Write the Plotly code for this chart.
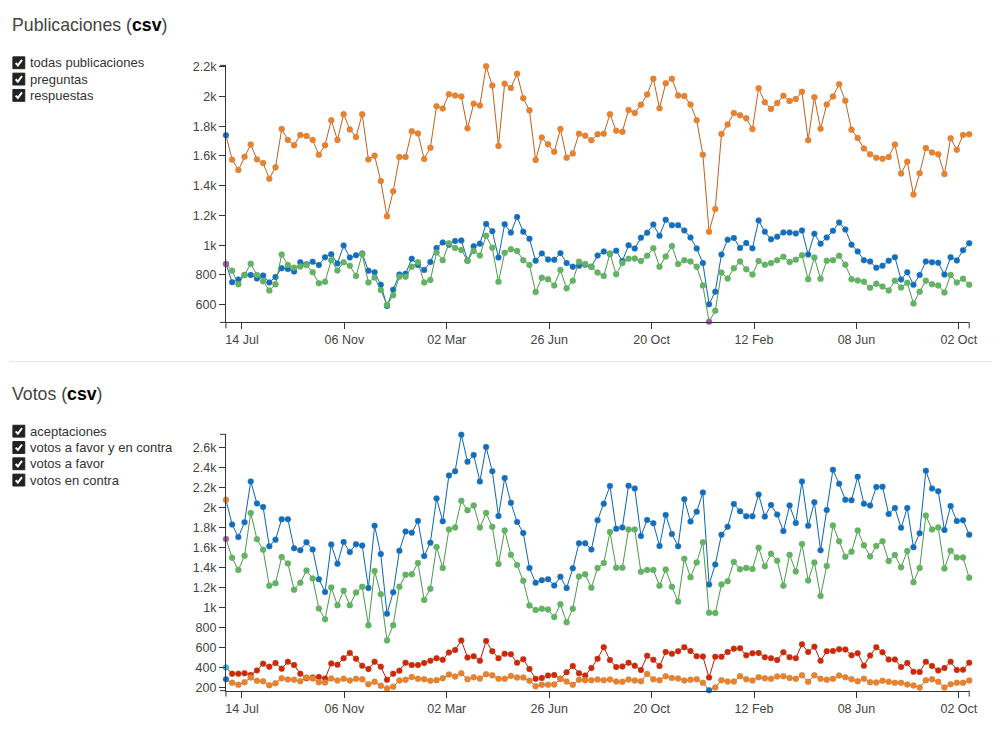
import pandas as pd
import plotly.graph_objects as go

# ---------------- data ----------------
week_start = "2017-06-26"
n_weeks = 121
weeks = pd.date_range(week_start, periods=n_weeks, freq="7D")

todas_publicaciones = [
    1739, 1575, 1506, 1595, 1677, 1577, 1553, 1447, 1524, 1781,
    1708, 1673, 1741, 1735, 1708, 1608, 1673, 1841, 1708, 1881,
    1779, 1728, 1881, 1577, 1602, 1431, 1194, 1362, 1593, 1593,
    1766, 1752, 1580, 1655, 1934, 1919, 2016, 2007, 2001, 1786,
    1952, 1939, 2204, 2074, 1668, 2087, 2058, 2153, 1989, 1907,
    1573, 1724, 1679, 1628, 1781, 1588, 1617, 1750, 1737, 1706,
    1746, 1750, 1881, 1770, 1763, 1910, 1890, 1945, 2014, 2120,
    1921, 2089, 2120, 2007, 2003, 1947, 1841, 1608, 1090, 1243,
    1748, 1812, 1890, 1874, 1854, 1781, 2056, 1961, 1916, 1956,
    2005, 1970, 1983, 2032, 1706, 1996, 1783, 1947, 2001, 2083,
    1972, 1777, 1721, 1650, 1611, 1588, 1582, 1593, 1677, 1482,
    1562, 1340, 1484, 1653, 1624, 1611, 1478, 1719, 1642, 1741,
    1746,
]
preguntas = [
    873, 751, 768, 799, 799, 775, 795, 749, 786, 844,
    839, 822, 884, 871, 888, 866, 919, 939, 877, 997,
    917, 932, 944, 828, 817, 733, 591, 700, 802, 808,
    908, 866, 833, 886, 981, 1017, 1003, 1028, 1032, 895,
    992, 1010, 1143, 1094, 917, 1141, 1085, 1190, 1090, 1043,
    895, 944, 904, 901, 946, 879, 855, 862, 868, 855,
    930, 957, 941, 963, 893, 999, 977, 1050, 1083, 1139,
    1063, 1170, 1134, 1134, 1099, 1052, 977, 879, 602, 687,
    937, 1037, 1048, 981, 1014, 979, 1165, 1090, 1039, 1057,
    1085, 1085, 1079, 1099, 937, 1076, 1010, 1052, 1096, 1152,
    1105, 1003, 957, 899, 890, 848, 861, 895, 919, 768,
    817, 733, 799, 890, 884, 881, 802, 919, 897, 966,
    1012,
]
respuestas = [
    873, 828, 737, 799, 875, 799, 757, 695, 737, 937,
    866, 848, 857, 866, 817, 744, 753, 899, 830, 884,
    862, 793, 939, 749, 782, 698, 598, 662, 788, 788,
    855, 884, 749, 766, 950, 899, 1012, 981, 968, 895,
    961, 930, 1063, 983, 753, 948, 972, 961, 899, 866,
    684, 780, 771, 729, 833, 709, 760, 888, 873, 853,
    815, 793, 944, 804, 879, 908, 910, 893, 928, 979,
    855, 924, 994, 873, 899, 890, 855, 729, 485, 558,
    815, 775, 844, 890, 837, 802, 893, 868, 879, 899,
    921, 886, 901, 932, 771, 917, 773, 895, 899, 928,
    868, 771, 762, 753, 713, 740, 722, 695, 760, 715,
    746, 607, 687, 760, 737, 729, 682, 799, 749, 773,
    733,
]

aceptaciones = [
    279, 243, 223, 250, 296, 263, 260, 220, 240, 289,
    276, 273, 260, 296, 286, 250, 246, 286, 266, 283,
    266, 283, 279, 230, 253, 213, 187, 204, 266, 273,
    302, 283, 279, 263, 270, 289, 326, 306, 339, 279,
    299, 286, 329, 319, 283, 283, 312, 296, 296, 263,
    210, 223, 223, 227, 283, 256, 223, 273, 270, 270,
    276, 270, 276, 256, 253, 276, 266, 260, 332, 279,
    270, 309, 293, 286, 266, 273, 279, 243, 170, 197,
    270, 256, 256, 309, 279, 266, 299, 289, 283, 306,
    309, 293, 283, 319, 253, 319, 283, 273, 283, 316,
    299, 279, 260, 283, 250, 246, 263, 253, 243, 243,
    227, 217, 197, 270, 279, 253, 197, 230, 243, 243,
    266,
]
votos_favor_contra = [
    2078, 1831, 1705, 1854, 2263, 2042, 2006, 1613, 1679, 1884,
    1884, 1593, 1573, 1653, 1580, 1283, 1154, 1630, 1438, 1656,
    1554, 1633, 1620, 1194, 1818, 1534, 936, 1151, 1567, 1762,
    1748, 1867, 1514, 1649, 2092, 1864, 2323, 2366, 2732, 2461,
    2527, 2263, 2607, 2366, 1917, 2296, 2049, 1857, 1745, 1395,
    1247, 1273, 1283, 1220, 1306, 1194, 1392, 1643, 1643, 1580,
    1874, 2039, 2217, 1788, 1801, 2220, 2191, 1715, 1877, 1844,
    1616, 1927, 1735, 1613, 2085, 1861, 1960, 2151, 1230, 1431,
    1729, 1808, 2036, 1964, 1913, 1913, 2131, 1910, 2026, 1930,
    1765, 2022, 1847, 2263, 1818, 2055, 1573, 1976, 2379, 2240,
    2078, 2075, 2310, 2039, 2022, 2207, 2210, 1936, 1996, 1798,
    1996, 1603, 1742, 2369, 2191, 2164, 1775, 2016, 1867, 1874,
    1729,
]
votos_favor = [
    1686, 1497, 1375, 1517, 1946, 1683, 1577, 1217, 1243, 1504,
    1441, 1177, 1247, 1369, 1290, 989, 880, 1200, 1022, 1167,
    1022, 1148, 1207, 821, 1365, 1131, 669, 821, 1207, 1326,
    1332, 1445, 1075, 1187, 1606, 1395, 1781, 1801, 2068, 1973,
    2022, 1801, 1946, 1808, 1435, 1771, 1527, 1425, 1266, 1019,
    973, 986, 979, 903, 1032, 850, 986, 1309, 1332, 1197,
    1395, 1445, 1755, 1398, 1398, 1781, 1781, 1356, 1375, 1375,
    1217, 1379, 1207, 1058, 1488, 1303, 1451, 1653, 946, 943,
    1230, 1263, 1455, 1382, 1395, 1385, 1597, 1412, 1537, 1468,
    1217, 1527, 1359, 1636, 1270, 1451, 1115, 1415, 1821, 1662,
    1507, 1557, 1771, 1623, 1511, 1616, 1662, 1464, 1524, 1402,
    1564, 1253, 1395, 1920, 1781, 1801, 1389, 1567, 1501, 1501,
    1296,
]
votos_contra = [
    398, 335, 335, 339, 322, 368, 435, 405, 441, 385,
    454, 421, 335, 289, 296, 303, 286, 438, 425, 491,
    543, 484, 415, 382, 454, 405, 273, 335, 365, 444,
    421, 421, 441, 464, 491, 474, 547, 573, 669, 497,
    510, 464, 662, 560, 491, 534, 530, 444, 481, 382,
    283, 293, 316, 322, 283, 349, 411, 339, 316, 392,
    484, 600, 471, 402, 408, 444, 415, 372, 514, 474,
    411, 553, 534, 560, 600, 563, 510, 507, 296, 504,
    504, 553, 586, 590, 520, 540, 543, 501, 491, 471,
    550, 501, 491, 629, 553, 606, 464, 560, 563, 580,
    577, 520, 540, 415, 517, 600, 550, 477, 477, 402,
    441, 355, 352, 454, 411, 368, 392, 454, 372, 375,
    444,
]

tick_stamps_ms = [1.50e12, 1.51e12, 1.52e12, 1.53e12, 1.54e12, 1.55e12, 1.56e12, 1.57e12]
tick_labels = ["14 Jul", "06 Nov", "02 Mar", "26 Jun", "20 Oct", "12 Feb", "08 Jun", "02 Oct"]

# ---------------- styling ----------------
W, H = 1000, 730
ORANGE, ORANGE_L = "#f28021", "#c0601c"
BLUE, BLUE_L = "#0a70c6", "#0a66b4"
GREEN, GREEN_L = "#5cb85c", "#4b9a4b"
RED, RED_L = "#d42400", "#b41e00"
PURPLE, CYAN = "#a05aa8", "#22bfe0"
AXIS = "#333333"
TXT = "#444444"
FONT = "Liberation Sans, Arial, sans-serif"


def px(x):
    return x / W


def py(y):
    return 1 - y / H


tickvals = [pd.to_datetime(t, unit="ms").strftime("%Y-%m-%d %H:%M:%S") for t in tick_stamps_ms]
x_range = [weeks[0].strftime("%Y-%m-%d"), weeks[-1].strftime("%Y-%m-%d")]


def marker_colors(values, base, alt, special_min=False):
    cols = [base] * len(values)
    cols[0] = alt
    if special_min:
        cols[values.index(min(values))] = alt
    return cols


fig = go.Figure()


def add_series(values, base, line_col, alt, xa, ya, special_min=False):
    fig.add_trace(go.Scatter(
        x=weeks, y=values, mode="lines+markers", xaxis=xa, yaxis=ya,
        line=dict(color=line_col, width=1),
        marker=dict(size=6, color=marker_colors(values, base, alt, special_min),
                    line=dict(width=0.6, color="rgba(140,140,140,0.55)")),
        cliponaxis=False, showlegend=False, hoverinfo="x+y",
    ))


# top chart
add_series(todas_publicaciones, ORANGE, ORANGE_L, BLUE, "x", "y")
add_series(preguntas, BLUE, BLUE_L, ORANGE, "x", "y")
add_series(respuestas, GREEN, GREEN_L, PURPLE, "x", "y", special_min=True)
# bottom chart
add_series(votos_favor_contra, BLUE, BLUE_L, ORANGE, "x2", "y2")
add_series(votos_favor, GREEN, GREEN_L, PURPLE, "x2", "y2")
add_series(votos_contra, RED, RED_L, CYAN, "x2", "y2")
add_series(aceptaciones, ORANGE, ORANGE_L, BLUE, "x2", "y2", special_min=True)

# pixel geometry
X0, X1 = 227, 977
TOP_Y0, TOP_Y1 = 321.35, 61.1      # pixels for range ends
BOT_Y0, BOT_Y1 = 694.2, 434.7
top_range = [480, 2210]
bot_range = [165, 2735]

xaxis_common = dict(
    type="date", range=x_range, domain=[px(X0), px(X1)],
    showgrid=False, zeroline=False, showline=True, linecolor=AXIS, linewidth=1,
    ticks="outside", ticklen=6, tickcolor=AXIS, tickwidth=1,
    tickvals=tickvals, ticktext=tick_labels,
    tickfont=dict(family=FONT, size=12.5, color=TXT),
)
yaxis_common = dict(
    showgrid=False, zeroline=False, showline=True, linecolor=AXIS, linewidth=1,
    ticks="outside", ticklen=6, tickcolor=AXIS, tickwidth=1,
    tick0=0, dtick=200, tickformat="~s",
    tickfont=dict(family=FONT, size=12.5, color=TXT),
)

fig.update_layout(
    width=W, height=H, margin=dict(l=0, r=0, t=0, b=0),
    paper_bgcolor="white", plot_bgcolor="white",
    font=dict(family=FONT, color=TXT),
    xaxis=dict(**xaxis_common, anchor="y"),
    yaxis=dict(**yaxis_common, anchor="x", range=top_range,
               domain=[py(TOP_Y0), py(TOP_Y1)]),
    xaxis2=dict(**xaxis_common, anchor="y2"),
    yaxis2=dict(**yaxis_common, anchor="x2", range=bot_range,
                domain=[py(BOT_Y0), py(BOT_Y1)]),
)

shapes = []
# outer ticks of the d3-style axes
for yb, yt in [(TOP_Y0, TOP_Y1), (BOT_Y0, BOT_Y1)]:
    for seg in [((X0 - 6, yb), (X0, yb)), ((X0 - 6, yt), (X0, yt)),
                ((X0, yb), (X0, yb + 6)), ((X1, yb), (X1, yb + 6))]:
        (ax, ay), (bx, by) = seg
        shapes.append(dict(type="line", xref="paper", yref="paper",
                           x0=px(ax), y0=py(ay), x1=px(bx), y1=py(by),
                           line=dict(color=AXIS, width=1)))

# separator
shapes.append(dict(type="line", xref="paper", yref="paper",
                   x0=px(8), x1=px(1000), y0=py(361), y1=py(361),
                   line=dict(color="#e6e6e6", width=1)))

annotations = []


def title(text, y):
    annotations.append(dict(
        xref="paper", yref="paper", x=px(9), y=py(y), xanchor="left", yanchor="middle",
        text=text + " (<b><span style='color:#000'>csv</span></b>)",
        showarrow=False, font=dict(family=FONT, size=17.7, color=TXT),
    ))


def checkbox_item(label, y):
    x0, x1 = 12, 24
    shapes.append(dict(type="rect", xref="paper", yref="paper",
                       x0=px(x0), x1=px(x1), y0=py(y + 6), y1=py(y - 6),
                       fillcolor="#222222", line=dict(color="#222222", width=1)))
    path = "M {} {} L {} {} L {} {}".format(
        px(x0 + 2.8), py(y + 0.2), px(x0 + 5.0), py(y + 2.6), px(x0 + 9.2), py(y - 3.0))
    shapes.append(dict(type="path", xref="paper", yref="paper", path=path,
                       line=dict(color="white", width=2)))
    annotations.append(dict(
        xref="paper", yref="paper", x=px(27.5), y=py(y), xanchor="left", yanchor="middle",
        text=label, showarrow=False, font=dict(family=FONT, size=13, color="#333333"),
    ))


title("Publicaciones", 20)
for lab, yy in zip(["todas publicaciones", "preguntas", "respuestas"], [58.5, 75, 91.5]):
    checkbox_item(lab, yy)

title("Votos", 394)
for lab, yy in zip(["aceptaciones", "votos a favor y en contra", "votos a favor", "votos en contra"],
                   [431.5, 448, 464.5, 481]):
    checkbox_item(lab, yy)

fig.update_layout(shapes=shapes, annotations=annotations)
fig.write_html("out.html", config={"displayModeBar": False},
               post_script="document.body.style.margin='0px';")
